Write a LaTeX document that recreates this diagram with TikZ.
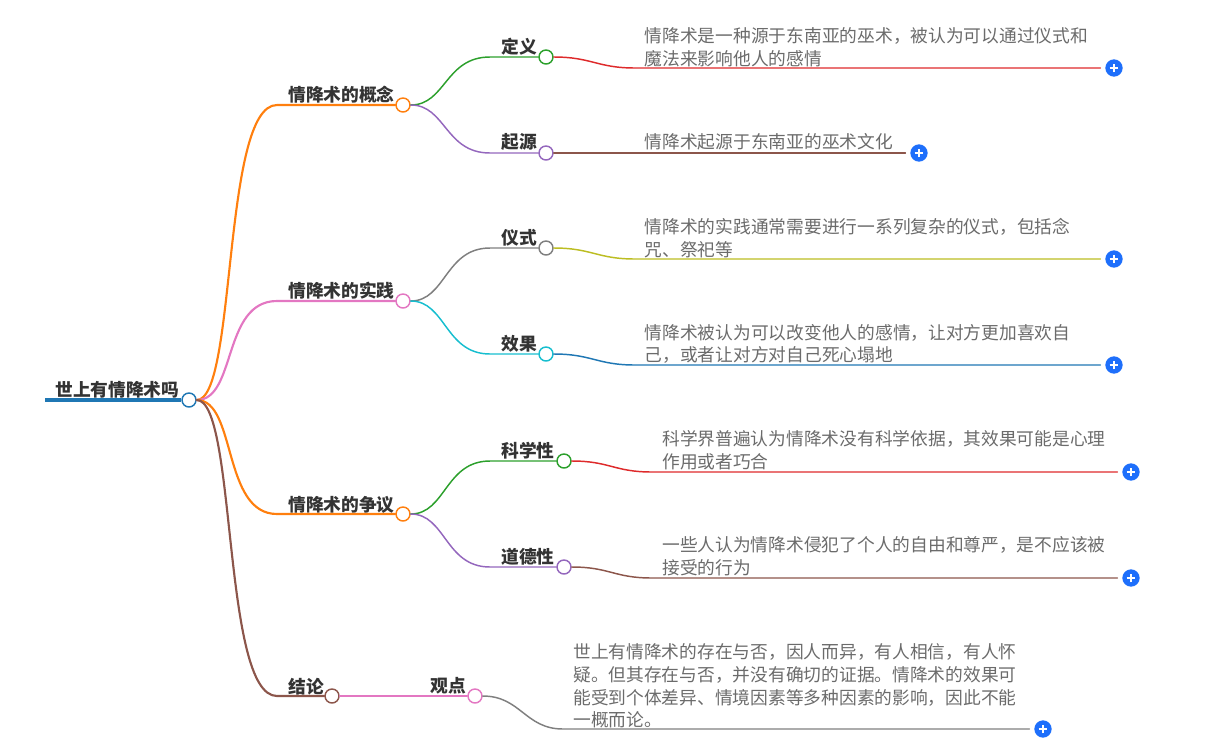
\documentclass[tikz,border=0pt]{standalone}
\usepackage{fontspec}
\setmainfont{Noto Sans CJK SC}
\definecolor{cblue}{HTML}{1F77B4}
\definecolor{corange}{HTML}{FF7F0E}
\definecolor{cgreen}{HTML}{2CA02C}
\definecolor{cred}{HTML}{DE2A2B}
\definecolor{cpurple}{HTML}{9467BD}
\definecolor{cbrown}{HTML}{8C564B}
\definecolor{cpink}{HTML}{E377C2}
\definecolor{cgray}{HTML}{7F7F7F}
\definecolor{colive}{HTML}{BCBD22}
\definecolor{ccyan}{HTML}{17BECF}
\definecolor{cplus}{HTML}{1E6FFB}
\tikzset{
  dot/.style={circle,fill=white,line width=1.1pt,inner sep=0pt,minimum size=10.5pt},
  plusdot/.style={circle,fill=cplus,draw=none,inner sep=0pt,minimum size=13pt,
    path picture={\draw[white,line width=1.1pt]
      (path picture bounding box.center)+(-3.2pt,0)--+(3.2pt,0)
      (path picture bounding box.center)+(0,-3.2pt)--+(0,3.2pt);}},
  topic/.style={font=\fontsize{13.3pt}{16pt}\selectfont\bfseries,text=black!80,inner sep=0pt},
  note/.style={font=\fontsize{13.3pt}{16.9pt}\selectfont,text=black!58,inner sep=0pt,align=left},
  link/.style={line width=1.1pt,line cap=round}
}
\begin{document}
\begin{tikzpicture}[x=0.75pt,y=-0.75pt,line join=round]
\useasboundingbox (0,0) rectangle (1222,751);
% circles on the branches
\foreach \n/\x/\y/\c in {root/189/400/cblue,concept/403/105/corange,practice/403/301/cpink,dispute/403/514/corange,
  verdict/332/696/cbrown,define/546/57/cgreen,origin/546/153/cpurple,ritual/546/248/cgray,effect/546/354/ccyan,
  science/564/461/cgreen,ethics/564/567/cpurple,view/475/696/cpink}{\node[dot,draw=\c] (\n) at (\x,\y) {};}
% plus buttons
\foreach \n/\x/\y in {pdefine/1114/68,porigin/919/153,pritual/1114/259,peffect/1114/365,pscience/1131/472,pethics/1131/578,pview/1043/729}{\node[plusdot] (\n) at (\x,\y) {};}
% titles
\foreach \n/\x/\y/\t in {troot/55/390/世上有情降术吗,tconcept/288/95/情降术的概念,tpractice/288/291/情降术的实践,tdispute/288/505/情降术的争议,
  tverdict/288/687/结论,tdefine/501/47/定义,torigin/501/142/起源,tritual/501/238/仪式,teffect/501/344/效果,
  tscience/501/451/科学性,tethics/501/557/道德性,tview/430/686/观点}{\node[topic,anchor=west] (\n) at (\x,\y) {\t};}
% long texts
\node[note,anchor=west] (ndefine) at (644.5,47) {情降术是一种源于东南亚的巫术，被认为可以通过仪式和\\魔法来影响他人的感情};
\node[note,anchor=west] (norigin) at (644.5,142) {情降术起源于东南亚的巫术文化};
\node[note,anchor=west] (nritual) at (644.5,238) {情降术的实践通常需要进行一系列复杂的仪式，包括念\\咒、祭祀等};
\node[note,anchor=west] (neffect) at (644.5,344) {情降术被认为可以改变他人的感情，让对方更加喜欢自\\己，或者让对方对自己死心塌地};
\node[note,anchor=west] (nscience) at (662,450) {科学界普遍认为情降术没有科学依据，其效果可能是心理\\作用或者巧合};
\node[note,anchor=west] (nethics) at (662,556) {一些人认为情降术侵犯了个人的自由和尊严，是不应该被\\接受的行为};
\node[note,anchor=west] (nview) at (573,686) {世上有情降术的存在与否，因人而异，有人相信，有人怀\\疑。但其存在与否，并没有确切的证据。情降术的效果可\\能受到个体差异、情境因素等多种因素的影响，因此不能\\一概而论。};
% root stem
\coordinate (stem) at (45,400);
\draw[cblue,line width=3pt] (stem) -- (root.west);
% branches from the root
\foreach \b/\c in {concept/corange,practice/cpink,dispute/corange,verdict/cbrown}{
  \coordinate (j\b) at (277,0 |- \b);
  \draw[link,\c,line width=1.6pt] (root.east) .. controls +(40,0) and +(-55,0) .. (j\b) -- (\b.west);}
% second level
\foreach \a/\b/\c in {concept/define/cgreen,concept/origin/cpurple,practice/ritual/cgray,practice/effect/ccyan,
  dispute/science/cgreen,dispute/ethics/cpurple}{
  \coordinate (j\b) at (490,0 |- \b);
  \draw[link,\c] (\a.east) .. controls +(35,0) and +(-45,0) .. (j\b) -- (\b.west);}
\draw[link,cpink,line width=1.4pt] (verdict.east) -- (view.west);
% leaves
\foreach \a/\b/\j/\y/\c in {define/pdefine/635/68/cred,origin/porigin/635/153/cbrown,ritual/pritual/635/259/colive,effect/peffect/635/365/cblue,
  science/pscience/652/472/cred,ethics/pethics/652/578/cbrown,view/pview/563/729/cgray}{
  \coordinate (j\b) at (\j,\y);
  \draw[link,\c,shorten >=3.5pt] (\a.east) .. controls +(38,0) and +(-38,0) .. (j\b) -- (\b.west);}
\end{tikzpicture}
\end{document}
